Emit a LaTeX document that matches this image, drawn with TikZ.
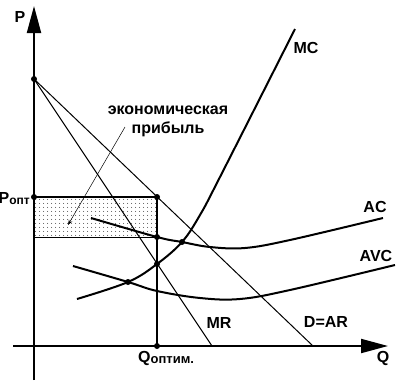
\documentclass[tikz,border=0pt]{standalone}
\usepackage{fontspec}
\setmainfont{Liberation Sans}
\usetikzlibrary{arrows.meta,calc,patterns.meta}

\begin{document}
\begin{tikzpicture}[x=1pt,y=-1pt,>=Stealth,
  axis/.style={line width=2pt,-{Triangle[length=27pt,width=14pt]}},
  curve/.style={line width=2pt},
  thinline/.style={line width=1pt},
  dot/.style={circle,fill,inner sep=0pt,minimum size=6pt},
  lbl/.style={font=\fontsize{16}{19}\selectfont\bfseries,inner sep=0pt}]

\useasboundingbox (0,0) rectangle (402,391);

% ---------- Axes ----------
\coordinate (Ybot) at (34,380);
\coordinate (Ytop) at (34,6);
\coordinate (Xleft) at (13,346);
\coordinate (Xright) at (388,346);

% ---------- Key points ----------
\coordinate (A) at (34,79);        % price intercept
\coordinate (Popt) at (34,197);
\coordinate (ACl) at (34,237);
\coordinate (E) at (157,197);      % point on D=AR
\coordinate (ACq) at (157,237);    % AC at optimum
\coordinate (MCq) at (157,264);    % MC = MR
\coordinate (Qopt) at (157,346);
\coordinate (ACmin) at (182,242);
\coordinate (AVCmin) at (128,282);
\coordinate (Dend) at (313,346);
\coordinate (MRend) at (212,346);

% Profit area
\fill[pattern={Dots[distance=4pt,radius=0.55pt]}] (Popt) rectangle (ACq);
\draw[thinline] (ACl) -- (ACq);
\draw[curve] (Popt) -- (E) -- (Qopt);

% ---------- Axes ----------
\draw[axis] (Ybot) -- (Ytop);
\draw[axis] (Xleft) -- (Xright);

% ---------- Demand and marginal revenue ----------
\draw[thinline] (A) -- (Dend);
\draw[thinline] (A) -- (MRend);

% ---------- Cost curves ----------
\draw[curve] plot[smooth,tension=0.6] coordinates
  {(91,218) (ACq) (ACmin) (210,247) (245,248) (290,240) (383,218)};
\draw[curve] plot[smooth,tension=0.6] coordinates
  {(73,266) (AVCmin) (157,291) (200,298) (240,299) (290,290) (395,265)};
\draw[curve] plot[smooth,tension=0.6] coordinates
  {(77,299) (AVCmin) (MCq) (ACmin) (200,215) (220,177) (295,29)};

% ---------- Dots ----------
\foreach \p in {A,Popt,E,ACq,MCq,Qopt,ACmin,AVCmin}
  \node[dot] at (\p) {};

% ---------- Labels ----------
\node[lbl] (Plbl) at (20,17) {P};
\node[lbl] (Qlbl) at (383,358) {Q};
\node[lbl] (MClbl) at (306,48) {MC};
\node[lbl] (AClbl) at (375,207) {AC};
\node[lbl] (AVClbl) at (376,256) {AVC};
\node[lbl] (MRlbl) at (219,323) {MR};
\node[lbl] (Dlbl) at (326,322) {D=AR};
\node[lbl,anchor=base east] (Poptlbl) at (30,203)
  {P\raisebox{-1pt}{\fontsize{12}{13}\selectfont опт}};
\node[lbl,anchor=base west] (Qoptlbl) at (138,362)
  {Q\raisebox{-1pt}{\fontsize{13}{14}\selectfont оптим.}};

% ---------- Profit annotation ----------
\node[lbl,align=center] (profit) at (168,121)
  {экономическая\\прибыль};
\draw[->,line width=0.5pt] (125,127) -- (68,225);

\end{tikzpicture}
\end{document}
